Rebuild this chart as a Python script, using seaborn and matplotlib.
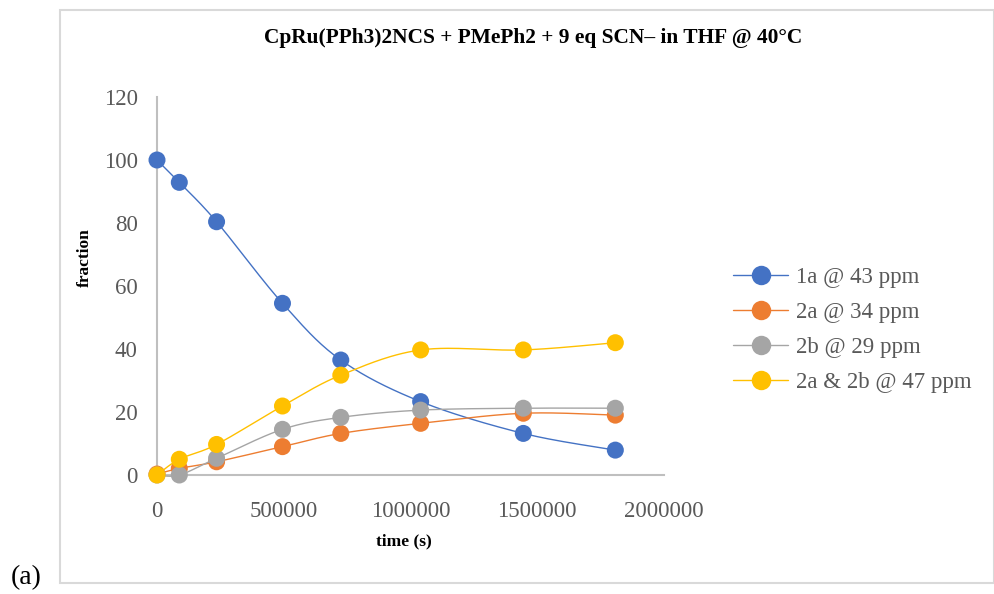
import numpy as np
import pandas as pd
import matplotlib
matplotlib.use("Agg")
import matplotlib.pyplot as plt
import seaborn as sns
from matplotlib.lines import Line2D
from matplotlib.patches import Rectangle

# ---- data ----
time_s = [0, 88000, 235000, 495000, 725000, 1040000, 1445000, 1808000]
s_1a = [100.0, 92.9, 80.4, 54.5, 36.5, 23.3, 13.2, 7.9]
s_2a = [0.3, 2.1, 4.2, 9.0, 13.2, 16.4, 19.6, 19.0]
s_2b = [0.0, 0.0, 5.3, 14.5, 18.3, 20.6, 21.2, 21.2]
s_2a2b = [0.0, 5.0, 9.7, 21.9, 31.7, 39.7, 39.7, 42.0]
series_names = ["1a @ 43 ppm", "2a @ 34 ppm", "2b @ 29 ppm", "2a & 2b @ 47 ppm"]
colors = ["#4472C4", "#ED7D31", "#A5A5A5", "#FFC000"]
title = "CpRu(PPh3)2NCS + PMePh2 + 9 eq SCN\u2013 in THF @ 40\u00b0C"
x_ticks = [0, 500000, 1000000, 1500000, 2000000]
y_ticks = [0, 20, 40, 60, 80, 100, 120]

df = pd.DataFrame({"time": time_s * 4,
                   "value": s_1a + s_2a + s_2b + s_2a2b,
                   "series": sum([[n] * len(time_s) for n in series_names], [])})

sns.set_theme(style="white")
plt.rcParams["font.family"] = ["Liberation Serif", "DejaVu Serif"]

W, H = 995, 594
fig = plt.figure(figsize=(W / 100, H / 100), dpi=100)

# outer frame
fig.patches.append(Rectangle((60 / W, 1 - 583 / H), (994 - 60) / W, (583 - 10) / H,
                             transform=fig.transFigure, fill=False,
                             edgecolor="#D9D9D9", linewidth=1.5))

ax_l, ax_r, ax_t, ax_b = 157, 664, 97, 475
ax = fig.add_axes([ax_l / W, 1 - ax_b / H, (ax_r - ax_l) / W, (ax_b - ax_t) / H])
ax.set_xlim(0, 2000000)
ax.set_ylim(0, 120)


def catmull_rom(xs, ys, sx, sy, n=30):
    px = np.asarray(xs, float) * sx
    py = np.asarray(ys, float) * sy
    P = np.column_stack([px, py])
    P = np.vstack([P[0], P, P[-1]])
    out = []
    for i in range(1, len(P) - 2):
        p0, p1, p2, p3 = P[i - 1], P[i], P[i + 1], P[i + 2]
        t = np.linspace(0, 1, n)[:, None]
        c1 = p1 + (p2 - p0) / 6
        c2 = p2 - (p3 - p1) / 6
        seg = ((1 - t) ** 3) * p1 + 3 * ((1 - t) ** 2) * t * c1 + 3 * (1 - t) * t ** 2 * c2 + t ** 3 * p2
        out.append(seg)
    out = np.vstack(out)
    return out[:, 0] / sx, out[:, 1] / sy


sx = (ax_r - ax_l) / 2000000
sy = (ax_b - ax_t) / 120
for i, (name, col) in enumerate(zip(series_names, colors)):
    sub = df[df.series == name]
    cx, cy = catmull_rom(sub.time.values, sub.value.values, sx, sy)
    ax.plot(cx, cy, color=col, lw=1.0, zorder=2 + 2 * i, clip_on=False)
    sns.scatterplot(x=sub.time, y=sub.value, color=col, s=150, edgecolor="none",
                    ax=ax, zorder=3 + 2 * i, clip_on=False, legend=False)

ax.set_xticks(x_ticks)
ax.set_xticklabels([str(v) for v in x_ticks])
ax.set_yticks(y_ticks)
ax.set_yticklabels([str(v) for v in y_ticks])
ax.tick_params(axis="both", length=0, labelsize=16.5, labelcolor="#595959")
ax.tick_params(axis="y", pad=14)
ax.tick_params(axis="x", pad=19)
ax.set_xlabel("")
ax.set_ylabel("")
for side in ["top", "right"]:
    ax.spines[side].set_visible(False)
for side in ["left", "bottom"]:
    ax.spines[side].set_color("#BFBFBF")
    ax.spines[side].set_linewidth(1.5)
ax.patch.set_alpha(0)

fig.text(533 / W, 1 - 38 / H, title, ha="center", va="center", fontsize=15.4,
         fontweight="bold", color="black")
fig.text(85 / W, 1 - 258 / H, "fraction", rotation=90, ha="center", va="center",
         fontsize=12.5, fontweight="bold", color="black")
fig.text(404 / W, 1 - 541 / H, "time (s)", ha="center", va="center",
         fontsize=12.5, fontweight="bold", color="black")
fig.text(26 / W, 1 - 578 / H, "(a)", ha="center", va="center", fontsize=20, color="black")

handles = [Line2D([0], [0], color=c, lw=1.0, marker="o", markersize=14,
                  markeredgewidth=0) for c in colors]
leg = fig.legend(handles, series_names, loc="center left",
                 bbox_to_anchor=(733 / W, 1 - 330 / H), frameon=False,
                 fontsize=16.5, handlelength=2.4, handletextpad=0.35,
                 labelspacing=0.62, borderaxespad=0, borderpad=0)
for t in leg.get_texts():
    t.set_color("#595959")

fig.savefig("out.png", dpi=100)
